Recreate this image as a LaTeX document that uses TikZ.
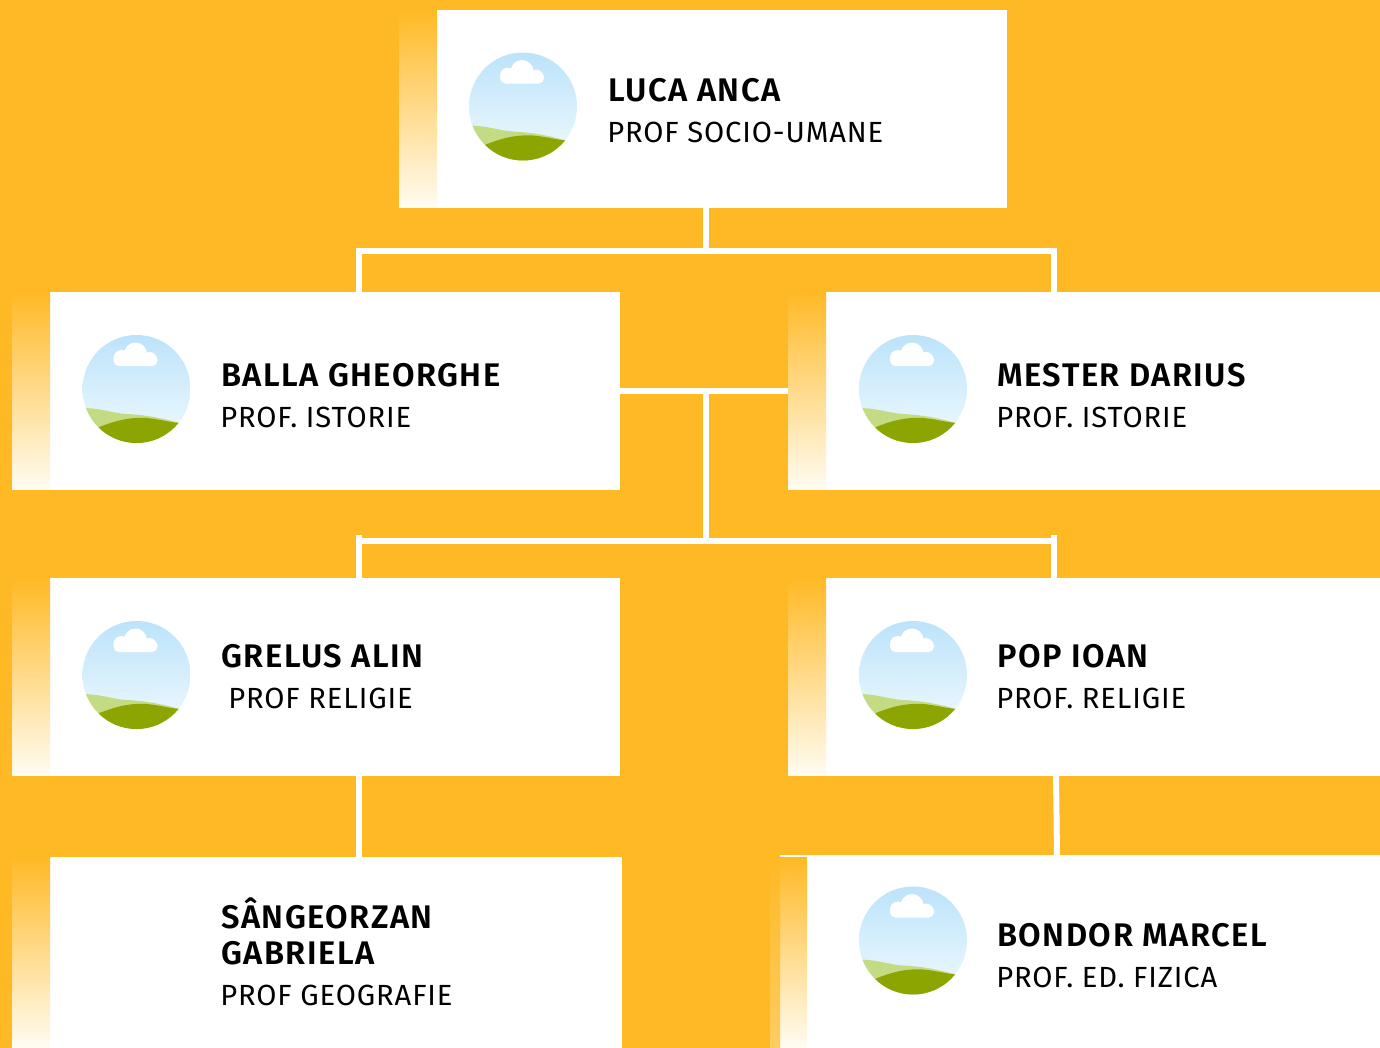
\documentclass[tikz,border=0pt]{standalone}
\usepackage{fontspec}
\setmainfont{Fira Sans}
\newfontfamily\namefont[LetterSpace=4.5]{Fira Sans SemiBold}
\newfontfamily\rolefont[LetterSpace=3.0]{Fira Sans}
\usetikzlibrary{positioning}
\definecolor{pagebg}{HTML}{FFB925}
\definecolor{stripend}{HTML}{FFFCF3}
\definecolor{glowend}{HTML}{FFCC60}
\definecolor{skytop}{HTML}{BCE3FA}
\definecolor{skyend}{HTML}{F0FAFF}
\definecolor{hilllight}{HTML}{C3DC84}
\definecolor{hilldark}{HTML}{8CA500}
\tikzset{
    % white box of a person
    card/.style={
           rectangle,
           fill=white,
           inner sep=0pt,
           outer sep=0pt,
           minimum height=3.96cm,},
    % fading band left of a box
    strip/.style={
           rectangle,
           inner sep=0pt,
           outer sep=0pt,
           minimum width=0.76cm,
           minimum height=3.96cm,
           top color=pagebg,
           bottom color=stripend,},
    % connecting lines
    link/.style={
           white,
           line width=0.12cm,},
    personname/.style={
           anchor=base west,
           inner sep=0pt,
           font=\namefont\fontsize{18.6}{18.6}\selectfont,},
    personrole/.style={
           anchor=base west,
           inner sep=0pt,
           font=\rolefont\fontsize{16.6}{16.6}\selectfont,},
    % round landscape picture
    avatar/.pic={
           \begin{scope}
           \clip (0,0) circle (54);
           \shade [top color=skytop, bottom color=skyend] (-54,-54) rectangle (54,54);
           \fill [hilllight] (-56,19) .. controls (-35,19) and (-25,24) .. (-10,25)
                 .. controls (10,26) and (25,29) .. (43,34)
                 -- (56,60) -- (-56,60) -- cycle;
           \fill [hilldark] (-37,38) .. controls (-22,32) and (-8,28) .. (10,29)
                 .. controls (22,30) and (32,33) .. (43,34)
                 -- (56,60) -- (-56,60) -- cycle;
           \end{scope}
           % cloud
           \fill [white, rounded corners=3] (-23,-23) rectangle (21,-35);
           \fill [white] (-1,-35) circle (11.5)
                 (-15,-31) circle (8)
                 (13,-30) circle (7);
    },
}
\begin{document}
\begin{tikzpicture}[x=0.02cm, y=-0.02cm]

\useasboundingbox (0,0) rectangle (1380,1048);
\fill [pagebg] (0,0) rectangle (1380,1048);

% junctions
\coordinate (topfork)  at (706,251);
\coordinate (midfork)  at (706,541);
\coordinate (leftbar)  at (359,535);
\coordinate (rightbar) at (1054,535);
\coordinate (lastdrop) at (1056,776);

% boxes
\node [card, minimum width=11.4cm] (luca) at (722,109) {};
\node [strip, left=0pt of luca] (lucastrip) {};

\node [card, minimum width=11.4cm] (balla) at (335,391) {};
\node [strip, left=0pt of balla] (ballastrip) {};

\node [card, minimum width=11.08cm] (mester) at (1103,391) {};
\node [strip, left=0pt of mester] (mesterstrip) {};

\node [card, minimum width=11.4cm] (grelus) at (335,677) {};
\node [strip, left=0pt of grelus] (grelusstrip) {};

\node [card, minimum width=11.08cm] (pop) at (1103,677) {};
\node [strip, left=0pt of pop] (popstrip) {};

\node [card, minimum width=11.44cm, minimum height=3.82cm] (sangeorzan) at (336,952.5) {};
\node [strip, minimum height=3.82cm, left=0pt of sangeorzan] (sangeorzanstrip) {};

\node [card, minimum width=11.46cm, minimum height=3.86cm] (bondor) at (1093.5,951.5) {};
\node [strip, minimum width=0.54cm, minimum height=3.8cm, below left=0.06cm and 0pt of bondor.north west, anchor=north east] (bondorstrip) {};
\node [strip, minimum width=0.2cm, minimum height=3.8cm, bottom color=glowend, anchor=north east] (bondorglow) at (bondorstrip.north west) {};

% connectors
\draw [link] (luca.south -| topfork) -- (topfork);
\draw [link] (balla.north -| leftbar) |- (topfork) -| (mester.north -| rightbar);
\draw [link] (balla.east) -- (mesterstrip.west);
\draw [link] (midfork |- balla.east) -- (midfork);
\draw [link] (leftbar) -- (grelus.north -| leftbar);
\draw [link] (rightbar) -- (pop.north -| rightbar);
\draw [link] (leftbar |- midfork) -- (rightbar |- midfork);
\draw [link] (grelus.south -| leftbar) -- (sangeorzan.north -| leftbar);
\draw [link] (lastdrop) -- ([xshift=0.02cm]bondor.north -| lastdrop);
\draw [white, line width=0.04cm] (bondorstrip.north west) ++(0,-2) -- ++(27,0);

% pictures
\path (523,106.5) pic {avatar}
      (136.5,389) pic {avatar}
      (913,389) pic {avatar}
      (136.5,675) pic {avatar}
      (913,675) pic {avatar}
      (913,940.5) pic {avatar};

% names and roles
\node [personname] (lucaname) at (608,101) {LUCA ANCA};
\node [personrole] (lucarole) at (607,142) {PROF SOCIO-UMANE};

\node [personname] (ballaname) at (221,386) {BALLA GHEORGHE};
\node [personrole] (ballarole) at (220,427) {PROF. ISTORIE};

\node [personname] (mestername) at (997,386) {MESTER DARIUS};
\node [personrole] (mesterrole) at (996,427) {PROF. ISTORIE};

\node [personname] (grelusname) at (221,667) {GRELUS ALIN};
\node [personrole] (grelusrole) at (228,708) {PROF RELIGIE};

\node [personname] (popname) at (997,667) {POP IOAN};
\node [personrole] (poprole) at (996,708) {PROF. RELIGIE};

\node [personname] (sangeorzanname) at (221,928) {SÂNGEORZAN};
\node [personname] (gabrielaname) at (221,964) {GABRIELA};
\node [personrole] (sangeorzanrole) at (220,1005) {PROF GEOGRAFIE};

\node [personname] (bondorname) at (997,946) {BONDOR MARCEL};
\node [personrole] (bondorrole) at (996,987) {PROF. ED. FIZICA};

\end{tikzpicture}
\end{document}
